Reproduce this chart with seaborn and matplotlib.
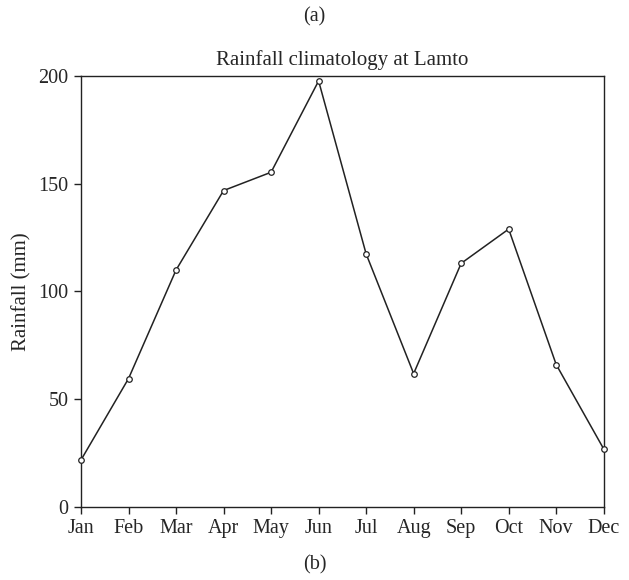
import matplotlib
matplotlib.use("Agg")
import matplotlib.pyplot as plt
import seaborn as sns
import pandas as pd

months = ["Jan", "Feb", "Mar", "Apr", "May", "Jun",
          "Jul", "Aug", "Sep", "Oct", "Nov", "Dec"]
rainfall_mm = [21.7, 59.5, 109.9, 146.8, 155.3, 197.7,
               117.4, 61.8, 113.0, 128.9, 66.0, 26.8]
y_ticks = [0, 50, 100, 150, 200]

sns.set_style("ticks")
plt.rcParams["font.family"] = ["Liberation Serif", "DejaVu Serif"]

df = pd.DataFrame({"month": months, "rain": rainfall_mm})
df["idx"] = range(len(months))

fig = plt.figure(figsize=(6.29, 5.8), dpi=100)
ax = fig.add_axes([0.1288, 0.1264, 0.9598 - 0.1288, 0.869 - 0.1264])

sns.lineplot(data=df, x="idx", y="rain", ax=ax, color="#222222",
             linewidth=1.1, marker="o", markersize=4.0,
             markerfacecolor="white", markeredgecolor="#222222",
             markeredgewidth=0.9, clip_on=False, zorder=3)

ax.set_xlim(0, len(months) - 1)
ax.set_ylim(0, 200)
ax.set_xticks(range(len(months)))
ax.set_xticklabels(months)
ax.set_yticks(y_ticks)
ax.set_xlabel("")
ax.set_ylabel("Rainfall (mm)", fontsize=15, labelpad=5)
ax.set_title("Rainfall climatology at Lamto", fontsize=15, pad=8)

for side in ["top", "right", "left", "bottom"]:
    ax.spines[side].set_visible(True)
    ax.spines[side].set_linewidth(1.0)
    ax.spines[side].set_color("#222222")
ax.tick_params(axis="both", direction="out", length=5, width=1.0,
               color="#222222", labelsize=14.5, pad=4)
ax.tick_params(top=False, right=False)

fig.text(0.5, 1 - 17 / 580, "(a)", ha="center", va="center", fontsize=14.5)
fig.text(0.5, 1 - 565 / 580, "(b)", ha="center", va="center", fontsize=14.5)

fig.savefig("out.png", dpi=100)
